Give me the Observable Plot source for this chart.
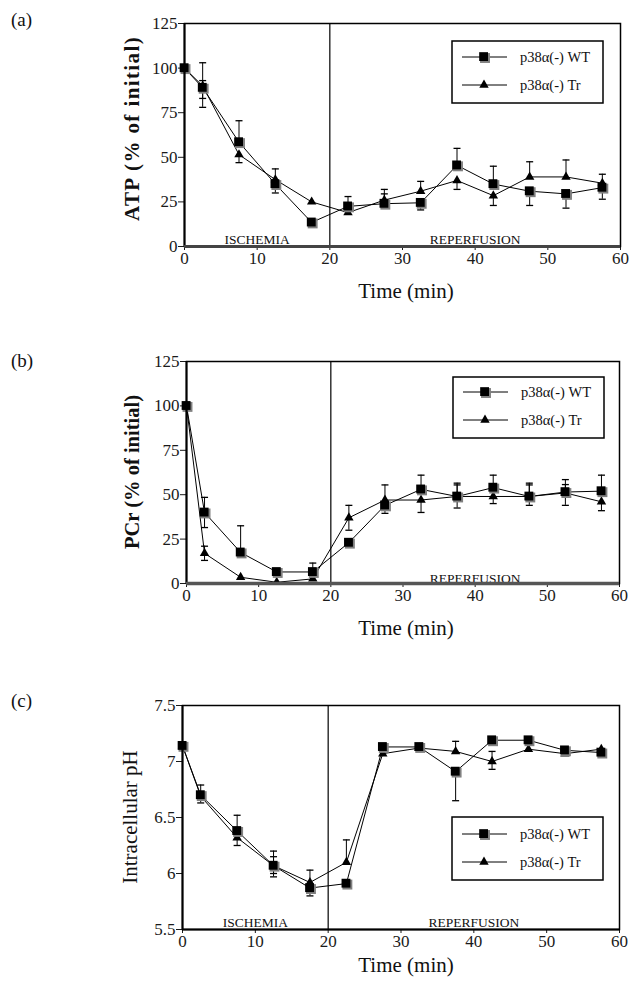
<!DOCTYPE html>
<html><head><meta charset="utf-8">
<script src="https://cdn.jsdelivr.net/npm/d3@7"></script>
<script src="https://cdn.jsdelivr.net/npm/@observablehq/plot@0.6"></script>
<style>
html,body{margin:0;padding:0;background:#fff;}
#wrap{position:relative;width:636px;height:992px;overflow:hidden;background:#fff;}
#wrap svg{position:absolute;left:0;}
</style></head><body><div id="wrap"></div>
<script>
// ---------- data ----------
const times = [0, 2.5, 7.5, 12.5, 17.5, 22.5, 27.5, 32.5, 37.5, 42.5, 47.5, 52.5, 57.5];
const seriesNames = ["p38\u03b1(-) WT", "p38\u03b1(-) Tr"];

// (a) ATP
const atpWT   = [100, 89, 58.5, 35, 13.5, 22.5, 24, 24.5, 45.5, 35, 31, 29.5, 33];
const atpTr   = [100, 90, 51.5, 37.5, 25, 19, 26, 31, 37, 28.5, 39, 39, 35.5];
const atpWTHi = [null, 103, 70.5, null, null, 28, 29.5, null, 55, 45, null, null, null];
const atpWTLo = [null, 83, null, 30, null, null, null, 20.5, null, null, 23, 21.5, 26.5];
const atpTrHi = [null, 93, null, 43.5, null, null, 32, 36.5, null, null, 47.5, 48.5, 40.5];
const atpTrLo = [null, 78, 47, null, null, null, null, null, 32, 23, null, null, null];

// (b) PCr
const pcrWT   = [100, 40, 17.5, 6.5, 6.5, 23, 44, 53, 49, 54, 49, 51.5, 52];
const pcrTr   = [100, 17, 3.5, 0.7, 2.6, 37, 47, 47, 49, 49, 49, 51, 46];
const pcrWTHi = [null, 48.5, 32.5, null, 11.5, null, null, 61, 56.5, 61, 56.5, 58.5, 61];
const pcrWTLo = [null, 31.5, null, null, null, null, 39.5, null, null, null, null, null, null];
const pcrTrHi = [null, 21, null, null, null, 44, 55.5, null, 55.5, null, 55.5, 55.7, null];
const pcrTrLo = [null, 13, null, null, null, 30, null, 40, 42.5, 45, 44, 44, 41];

// (c) intracellular pH
const phWT   = [7.14, 6.70, 6.38, 6.07, 5.87, 5.91, 7.13, 7.13, 6.91, 7.19, 7.19, 7.10, 7.08];
const phTr   = [7.14, 6.69, 6.32, 6.07, 5.92, 6.10, 7.07, 7.12, 7.09, 7.00, 7.11, 7.07, 7.11];
const phWTHi = [null, 6.79, 6.52, 6.20, null, null, null, null, null, null, null, null, null];
const phWTLo = [null, 6.63, null, 5.97, 5.80, null, null, null, 6.65, null, null, null, null];
const phTrHi = [null, null, null, 6.15, 6.03, 6.30, null, null, 7.18, 7.09, null, null, null];
const phTrLo = [null, null, 6.25, 6.00, null, null, null, null, null, 6.93, null, null, null];

// axes / annotations
const xTicks = [0, 10, 20, 30, 40, 50, 60];
const yTicksPct = [0, 25, 50, 75, 100, 125];
const yTickLabelsPct = ["0", "25", "50", "75", "100", "125"];
const yTicksPH = [5.5, 6, 6.5, 7, 7.5];
const yTickLabelsPH = ["5.5", "6", "6.5", "7", "7.5"];
const phaseLabels = ["ISCHEMIA", "REPERFUSION"];
const phaseCenters = [10, 40];
const boundary = 20;
const xLabel = "Time (min)";

// ---------- drawing ----------
const SERIF = '"Liberation Serif","Times New Roman",Times,serif';
const capSymbol = { draw(ctx) { ctx.moveTo(-3.5, 0); ctx.lineTo(3.5, 0); } };

function rows(v) { return times.map((t, i) => ({ t, v: v[i] })); }
function errRows(v, hi, lo) {
  const out = [];
  times.forEach((t, i) => {
    if (hi[i] != null) out.push({ t, v: v[i], cap: hi[i] });
    if (lo[i] != null) out.push({ t, v: v[i], cap: lo[i] });
  });
  return out;
}

function panel(cfg) {
  const wt = rows(cfg.wt), tr = rows(cfg.tr);
  const eWT = errRows(cfg.wt, cfg.wtHi, cfg.wtLo);
  const eTr = errRows(cfg.tr, cfg.trHi, cfg.trLo);
  const phases = cfg.phases.map(i => ({ label: phaseLabels[i], t: phaseCenters[i] }));
  const H = cfg.mt + cfg.ph + cfg.mb;
  const svg = Plot.plot({
    width: 636, height: H,
    marginTop: cfg.mt, marginBottom: cfg.mb, marginLeft: cfg.ml, marginRight: cfg.mr,
    style: { fontFamily: SERIF, fontSize: "17px", color: "#1a1a1a", background: "#fff", overflow: "visible" },
    x: { domain: [0, 60] },
    y: { domain: cfg.ydomain },
    marks: [
      Plot.axisX({ ticks: xTicks, tickSize: 4, tickPadding: 1, label: null, fontSize: 17 }),
      Plot.axisY({ ticks: cfg.yticks, tickFormat: (d) => cfg.ylabels[cfg.yticks.indexOf(d)], tickSize: 6, tickPadding: 1, label: null, fontSize: 17 }),
      Plot.ruleX(eTr, { x: "t", y1: "v", y2: "cap", stroke: "#000", strokeWidth: 1 }),
      Plot.dot(eTr, { x: "t", y: "cap", symbol: capSymbol, stroke: "#000", fill: "none", strokeWidth: 1.3 }),
      Plot.ruleX(eWT, { x: "t", y1: "v", y2: "cap", stroke: "#000", strokeWidth: 1 }),
      Plot.dot(eWT, { x: "t", y: "cap", symbol: capSymbol, stroke: "#000", fill: "none", strokeWidth: 1.3 }),
      Plot.ruleX([boundary], { stroke: "#000", strokeWidth: 1.2 }),
      Plot.line(tr, { x: "t", y: "v", stroke: "#000", strokeWidth: 1 }),
      Plot.line(wt, { x: "t", y: "v", stroke: "#000", strokeWidth: 1 }),
      Plot.dot(tr, { x: "t", y: "v", symbol: "triangle", r: 3.5, fill: "#000", stroke: "none" }),
      Plot.dot(wt, { x: "t", y: "v", symbol: "square", r: 5.6, fill: "#808080", stroke: "none", dx: 1, dy: 1 }),
      Plot.dot(wt, { x: "t", y: "v", symbol: "square", r: 5, fill: "#000", stroke: "none", dx: -0.4, dy: -0.4 }),
      Plot.text(phases, { x: "t", text: "label", frameAnchor: "bottom", lineAnchor: "bottom", dy: cfg.phaseDy, fontSize: 13.5, fill: "#111" }),
      Plot.frame({ stroke: "#000", strokeWidth: 1.5 }),
      Plot.ruleX([0], { stroke: "#000", strokeWidth: 2 }),
      Plot.ruleY([cfg.ydomain[0]], { stroke: cfg.baseColor, strokeWidth: cfg.baseWidth })
    ]
  });
  svg.style.top = cfg.top + "px";
  const s = d3.select(svg);
  const fy0 = cfg.mt, fy1 = cfg.mt + cfg.ph;
  // panel letter
  s.append("text").attr("x", 11).attr("y", fy0 + cfg.letterDy).attr("text-anchor", "start")
    .attr("font-family", SERIF).attr("font-size", 19).attr("fill", "#111").text(cfg.letter);
  // y label
  s.append("text").attr("transform", `translate(${cfg.ylabX},${(fy0 + fy1) / 2 + cfg.ylabShift}) rotate(-90)`)
    .attr("text-anchor", "middle").attr("dy", "0.35em").attr("font-family", SERIF)
    .attr("font-size", cfg.ylabSize).attr("font-weight", cfg.ylabBold ? "bold" : "normal")
    .attr("letter-spacing", cfg.ylabSpacing || 0).attr("fill", "#111").text(cfg.ylab);
  // x label
  s.append("text").attr("x", 406).attr("y", fy1 + cfg.xlabDy).attr("text-anchor", "middle")
    .attr("font-family", SERIF).attr("font-size", 21).attr("fill", "#111").text(xLabel);
  // legend
  const lg = s.append("g");
  const lx = cfg.legX, ly = fy0 + cfg.legY;
  lg.append("rect").attr("x", lx).attr("y", ly).attr("width", 151).attr("height", cfg.legH)
    .attr("fill", "#fff").attr("stroke", "#000").attr("stroke-width", 1.5);
  const rowsY = [ly + cfg.legRow1, ly + cfg.legRow2];
  rowsY.forEach((ry, i) => {
    lg.append("line").attr("x1", lx + 10).attr("x2", lx + 55).attr("y1", ry).attr("y2", ry)
      .attr("stroke", "#000").attr("stroke-width", 1);
    if (i === 0) {
      lg.append("path").attr("d", d3.symbol(d3.symbolSquare, 5.6 * 5.6 * Math.PI)())
        .attr("transform", `translate(${lx + 33},${ry + 1})`).attr("fill", "#808080");
      lg.append("path").attr("d", d3.symbol(d3.symbolSquare, 5 * 5 * Math.PI)())
        .attr("transform", `translate(${lx + 31.6},${ry - 0.4})`).attr("fill", "#000");
    } else {
      lg.append("path").attr("d", d3.symbol(d3.symbolTriangle, 3.5 * 3.5 * Math.PI)())
        .attr("transform", `translate(${lx + 32},${ry})`).attr("fill", "#000");
    }
    lg.append("text").attr("x", lx + 68).attr("y", ry + 5).attr("text-anchor", "start")
      .attr("font-family", SERIF).attr("font-size", 14.5).attr("fill", "#111").text(seriesNames[i]);
  });
  document.getElementById("wrap").appendChild(svg);
}

panel({
  top: 0, mt: 23, ph: 223, mb: 60, ml: 184, mr: 16,
  ydomain: [0, 125], yticks: yTicksPct, ylabels: yTickLabelsPct,
  wt: atpWT, tr: atpTr, wtHi: atpWTHi, wtLo: atpWTLo, trHi: atpTrHi, trLo: atpTrLo,
  phases: [0, 1], phaseDy: -3, baseColor: "#444", baseWidth: 3,
  letter: "(a)", letterDy: 3, ylab: "ATP (% of initial)", ylabX: 132, ylabShift: -6, ylabSize: 21, ylabBold: true, ylabSpacing: 1.4,
  xlabDy: 52, legX: 452, legY: 18, legH: 62, legRow1: 16, legRow2: 44
});
panel({
  top: 338, mt: 23, ph: 222, mb: 60, ml: 186, mr: 17,
  ydomain: [0, 125], yticks: yTicksPct, ylabels: yTickLabelsPct,
  wt: pcrWT, tr: pcrTr, wtHi: pcrWTHi, wtLo: pcrWTLo, trHi: pcrTrHi, trLo: pcrTrLo,
  phases: [1], phaseDy: -1, baseColor: "#555", baseWidth: 3.5,
  letter: "(b)", letterDy: 6, ylab: "PCr (% of initial)", ylabX: 132, ylabShift: 0, ylabSize: 20.5, ylabBold: true, ylabSpacing: 0,
  xlabDy: 52, legX: 453, legY: 16, legH: 61, legRow1: 15, legRow2: 43
});
panel({
  top: 682, mt: 23, ph: 224, mb: 60, ml: 182, mr: 17,
  ydomain: [5.5, 7.5], yticks: yTicksPH, ylabels: yTickLabelsPH,
  wt: phWT, tr: phTr, wtHi: phWTHi, wtLo: phWTLo, trHi: phTrHi, trLo: phTrLo,
  phases: [0, 1], phaseDy: -3, baseColor: "#000", baseWidth: 2,
  letter: "(c)", letterDy: 1.5, ylab: "Intracellular pH", ylabX: 130, ylabShift: 0, ylabSize: 21, ylabBold: false, ylabSpacing: 0,
  xlabDy: 43, legX: 452, legY: 112, legH: 63, legRow1: 17, legRow2: 45
});
</script></body></html>
